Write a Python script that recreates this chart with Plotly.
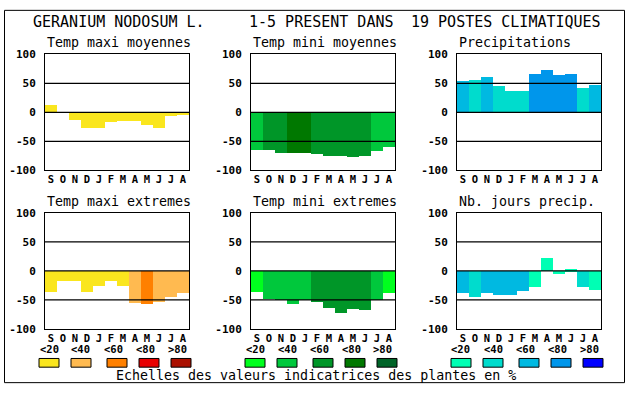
import plotly.graph_objects as go

W, H = 630, 394

months = ["S", "O", "N", "D", "J", "F", "M", "A", "M", "J", "J", "A"]

# values (% indicator) and colour class (0:<20, 1:<40, 2:<60, 3:<80, 4:>80)
tmax_moy = [12, 0, -13, -28, -27, -17, -15, -15, -23, -27, -7, -5]
tmax_moy_cls = [0, 0, 0, 0, 0, 0, 0, 0, 0, 0, 0, 0]

tmin_moy = [-66, -65, -71, -71, -71, -73, -75, -76, -78, -75, -68, -61]
tmin_moy_cls = [1, 2, 2, 3, 3, 2, 2, 2, 2, 2, 1, 1]

precip = [53, 55, 60, 45, 37, 37, 65, 73, 63, 65, 42, 47]
precip_cls = [2, 1, 2, 1, 1, 1, 3, 3, 3, 3, 1, 2]

tmax_ext = [-37, -18, -17, -37, -25, -18, -25, -55, -57, -53, -45, -38]
tmax_ext_cls = [0, 0, 0, 0, 0, 0, 0, 1, 2, 1, 1, 1]

tmin_ext = [-37, -48, -50, -56, -50, -54, -63, -72, -65, -68, -50, -38]
tmin_ext_cls = [0, 1, 1, 1, 1, 2, 2, 2, 2, 2, 1, 0]

njours = [-38, -45, -38, -42, -42, -35, -28, 22, -5, 3, -28, -32]
njours_cls = [2, 1, 2, 2, 2, 2, 0, 0, 0, 0, 1, 0]

warm = ["#fae61e", "#ffba50", "#ff8000", "#e80000", "#aa1000"]
green = ["#00ff1e", "#00c83c", "#009628", "#007800", "#006428"]
blue = ["#00ffb4", "#00dccd", "#00b9e1", "#0096eb", "#0000ff"]

legend_labels = ["<20", "<40", "<60", "<80", ">80"]

title_parts = ["GERANIUM NODOSUM L.", "1-5 PRESENT DANS", "19 POSTES CLIMATIQUES"]
footer = "Echelles des valeurs indicatrices des plantes en %"

panels = [
    ("Temp maxi moyennes", tmax_moy, tmax_moy_cls, warm),
    ("Temp mini moyennes", tmin_moy, tmin_moy_cls, green),
    ("Precipitations", precip, precip_cls, blue),
    ("Temp maxi extremes", tmax_ext, tmax_ext_cls, warm),
    ("Temp mini extremes", tmin_ext, tmin_ext_cls, green),
    ("Nb. jours precip.", njours, njours_cls, blue),
]

FONT = "DejaVu Sans Mono"
col_left = [45, 251, 457]
plot_w = 144
row_top = [50, 214]
plot_h = 120


def px(x):
    return x / W


def py(y):
    return 1 - y / H


fig = go.Figure()
layout = dict(
    width=W, height=H, margin=dict(l=0, r=0, t=0, b=0),
    paper_bgcolor="white", plot_bgcolor="white", showlegend=False,
    bargap=0,
)
shapes = []
annotations = []

for i, (name, vals, cls, pal) in enumerate(panels):
    r, c = divmod(i, 3)
    n = i + 1
    xa = "xaxis" if n == 1 else f"xaxis{n}"
    ya = "yaxis" if n == 1 else f"yaxis{n}"
    xr = "x" if n == 1 else f"x{n}"
    yr = "y" if n == 1 else f"y{n}"
    x0, y0 = col_left[c], row_top[r]
    fig.add_trace(go.Bar(
        x=list(range(len(months))), y=vals, width=1,
        marker=dict(color=[pal[k] for k in cls], line=dict(width=0)),
        xaxis=xr, yaxis=yr, hoverinfo="skip",
    ))
    layout[xa] = dict(
        domain=[px(x0), px(x0 + plot_w)], anchor=yr, range=[-0.5, 11.5],
        tickmode="array", tickvals=list(range(12)), ticktext=months,
        showgrid=False, zeroline=False, showline=True, mirror=True,
        linecolor="black", linewidth=1, ticks="", ticklen=0,
        ticklabelstandoff=-1,
        tickfont=dict(family=FONT, size=10.5, color="black", weight="bold"),
        fixedrange=True,
    )
    layout[ya] = dict(
        domain=[py(y0 + plot_h), py(y0)], anchor=xr, range=[-100, 100],
        tickmode="array", tickvals=[-100, -50, 0, 50, 100],
        ticktext=["-100", "-50", "0", "50", "100"],
        showgrid=False, zeroline=False, showline=True, mirror=True,
        linecolor="black", linewidth=1, ticks="", ticklabelstandoff=6,
        tickfont=dict(family=FONT, size=11, color="black", weight="bold"),
        fixedrange=True,
    )
    for lv in [50, 0, -50]:
        shapes.append(dict(type="line", xref=f"{xr} domain", yref=yr,
                           x0=0, x1=1, y0=lv, y1=lv, layer="above",
                           line=dict(color="black", width=1.3)))
    annotations.append(dict(
        text=name, x=px(x0), y=py(y0 - 12), xref="paper", yref="paper",
        xanchor="left", yanchor="middle", showarrow=False,
        font=dict(family=FONT, size=13.3, color="black")))
    if r == 1:
        sw_off = [4, 36, 72, 104, 136]
        lb_off = [4, 36, 68, 100, 132]
        for k in range(5):
            cx = x0 + sw_off[k]
            shapes.append(dict(type="rect", xref="paper", yref="paper",
                               x0=px(cx - 10), x1=px(cx + 10),
                               y0=py(373.5), y1=py(364.5),
                               fillcolor=pal[k],
                               line=dict(color="black", width=1)))
            annotations.append(dict(
                text=legend_labels[k], x=px(x0 + lb_off[k]), y=py(355),
                xref="paper", yref="paper", xanchor="center", yanchor="middle",
                showarrow=False,
                font=dict(family=FONT, size=10.5, color="black", weight="bold")))

for txt, xl in zip(title_parts, [31, 247, 409]):
    annotations.append(dict(
        text=txt, x=px(xl), y=py(17), xref="paper", yref="paper",
        xanchor="left", yanchor="middle", showarrow=False,
        font=dict(family=FONT, size=15, color="black")))

annotations.append(dict(
    text=footer, x=px(316), y=py(382), xref="paper", yref="paper",
    xanchor="center", yanchor="middle", showarrow=False,
    font=dict(family=FONT, size=13.3, color="black")))

shapes.append(dict(type="rect", xref="paper", yref="paper",
                   x0=px(4.5), x1=px(624.5), y0=py(389.5), y1=py(4.5),
                   line=dict(color="black", width=1), layer="above"))

layout["shapes"] = shapes
layout["annotations"] = annotations
fig.update_layout(**layout)

post = (
    "document.documentElement.style.margin='0';"
    "document.documentElement.style.overflow='hidden';"
    "document.body.style.margin='0';"
    "document.body.style.overflow='hidden';"
    "var d=document.getElementsByClassName('plotly-graph-div')[0];"
    "d.style.position='absolute';d.style.top='0px';d.style.left='0px';"
)
fig.write_html("out.html", config={"displayModeBar": False}, post_script=post)
